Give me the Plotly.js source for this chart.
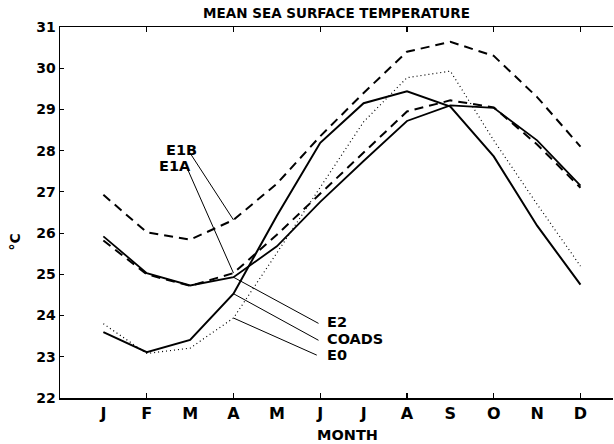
<!DOCTYPE html>
<html>
<head>
<meta charset="utf-8">
<script src="https://cdn.plot.ly/plotly-3.0.1.min.js"></script>
<style>html,body{margin:0;padding:0;background:#fff;}#chart{width:614px;height:444px;}</style>
</head>
<body>
<div id="chart"></div>
<script>
const months = ['J','F','M','A','M','J','J','A','S','O','N','D'];
const E1B   = [26.93, 26.02, 25.84, 26.32, 27.2, 28.35, 29.4, 30.4, 30.64, 30.3, 29.3, 28.1];
const E1A   = [25.82, 25.0, 24.72, 25.03, 25.96, 26.95, 27.95, 28.95, 29.22, 29.05, 28.15, 27.1];
const E2    = [25.92, 25.03, 24.73, 24.93, 25.68, 26.76, 27.75, 28.72, 29.1, 29.04, 28.25, 27.15];
const COADS = [23.6, 23.11, 23.41, 24.53, 26.42, 28.19, 29.15, 29.44, 29.07, 27.86, 26.18, 24.75];
const E0    = [23.8, 23.08, 23.21, 23.94, 25.52, 27.12, 28.7, 29.77, 29.93, 28.25, 26.7, 25.2];
const yTicks = [22,23,24,25,26,27,28,29,30,31];

const xi = months.map((_, i) => i);
const FONT = 'DejaVu Sans, Liberation Sans, Arial, sans-serif';

function tr(y, dash, width, name) {
  return {x: xi, y: y, type: 'scatter', mode: 'lines', name: name,
          line: {color: '#000', width: width, dash: dash}, hoverinfo: 'skip'};
}
const traces = [
  tr(E1B, '9px,6px', 2, 'E1B'),
  tr(E1A, '9px,6px', 2, 'E1A'),
  tr(E2, 'solid', 1.8, 'E2'),
  tr(COADS, 'solid', 2, 'COADS'),
  tr(E0, '1px,3px', 1.2, 'E0'),
  {x: [0], y: [22], xaxis: 'x2', type: 'scatter', mode: 'markers', marker: {opacity: 0}, hoverinfo: 'skip', showlegend: false}
];

// leader lines: [series, tail x, tail y]
const leaders = [
  [E1B, 2.0, 27.94], [E1A, 1.95, 27.53], [E2, 4.96, 23.81], [COADS, 4.96, 23.40], [E0, 4.92, 23.04]
];
const shapes = leaders.map(l => ({type: 'line', xref: 'x', yref: 'y', x0: 3, y0: l[0][3], x1: l[1], y1: l[2],
  line: {color: '#000', width: 1}}));

const labFont = {family: FONT, size: 14.5, color: '#000', weight: 'bold'};
const annotations = [
  {text: 'E1B', x: 1.79, y: 28.01, xref: 'x', yref: 'y', showarrow: false, font: labFont},
  {text: 'E1A', x: 1.66, y: 27.64, xref: 'x', yref: 'y', showarrow: false, font: labFont},
  {text: 'E2', x: 5.1, y: 23.85, xref: 'x', yref: 'y', xanchor: 'left', showarrow: false, font: labFont},
  {text: 'COADS', x: 5.1, y: 23.44, xref: 'x', yref: 'y', xanchor: 'left', showarrow: false, font: labFont},
  {text: 'E0', x: 5.1, y: 23.04, xref: 'x', yref: 'y', xanchor: 'left', showarrow: false, font: labFont},
  {text: 'MONTH', x: 0.52, y: -0.074, xref: 'paper', yref: 'paper', xanchor: 'center', yanchor: 'top', showarrow: false,
   font: {family: FONT, size: 14.5, color: '#000', weight: 'bold'}},
  {text: '°C', x: -0.081, y: 0.42, xref: 'paper', yref: 'paper', xanchor: 'center', yanchor: 'middle', textangle: -90, showarrow: false,
   font: {family: FONT, size: 14, color: '#000', weight: 'bold'}}
];

const layout = {
  width: 614, height: 444,
  margin: {l: 60, r: 1, t: 27, b: 46},
  paper_bgcolor: '#fff', plot_bgcolor: '#fff',
  showlegend: false,
  title: {text: 'MEAN SEA SURFACE TEMPERATURE', x: 0.5, xref: 'paper', y: 0.969, yanchor: 'middle',
          font: {family: FONT, size: 13.5, color: '#000', weight: 'bold'}},
  xaxis: {range: [-1, 11.75], tickvals: xi, ticktext: months, ticks: '', showgrid: false, zeroline: false,
          showline: true, linecolor: '#000', linewidth: 1.5, mirror: true,
          tickfont: {family: FONT, size: 16, color: '#000', weight: 'bold'}},
  xaxis2: {overlaying: 'x', range: [-1, 11.75], tickvals: [1,3,5,7,9,11], showticklabels: false,
           ticks: 'inside', ticklen: 5, tickwidth: 1.2, tickcolor: '#000', showgrid: false, zeroline: false,
           showline: false, mirror: 'ticks', anchor: 'y'},
  yaxis: {range: [22, 31], tickvals: yTicks, ticks: 'inside', ticklen: 4, tickwidth: 1.2, tickcolor: '#000',
          showgrid: false, zeroline: false, showline: true, linecolor: '#000', linewidth: 1.5,
          tickfont: {family: FONT, size: 14, color: '#000', weight: 'bold'}},
  shapes: shapes,
  annotations: annotations
};

Plotly.newPlot('chart', traces, layout, {displayModeBar: false, staticPlot: true});
</script>
</body>
</html>
